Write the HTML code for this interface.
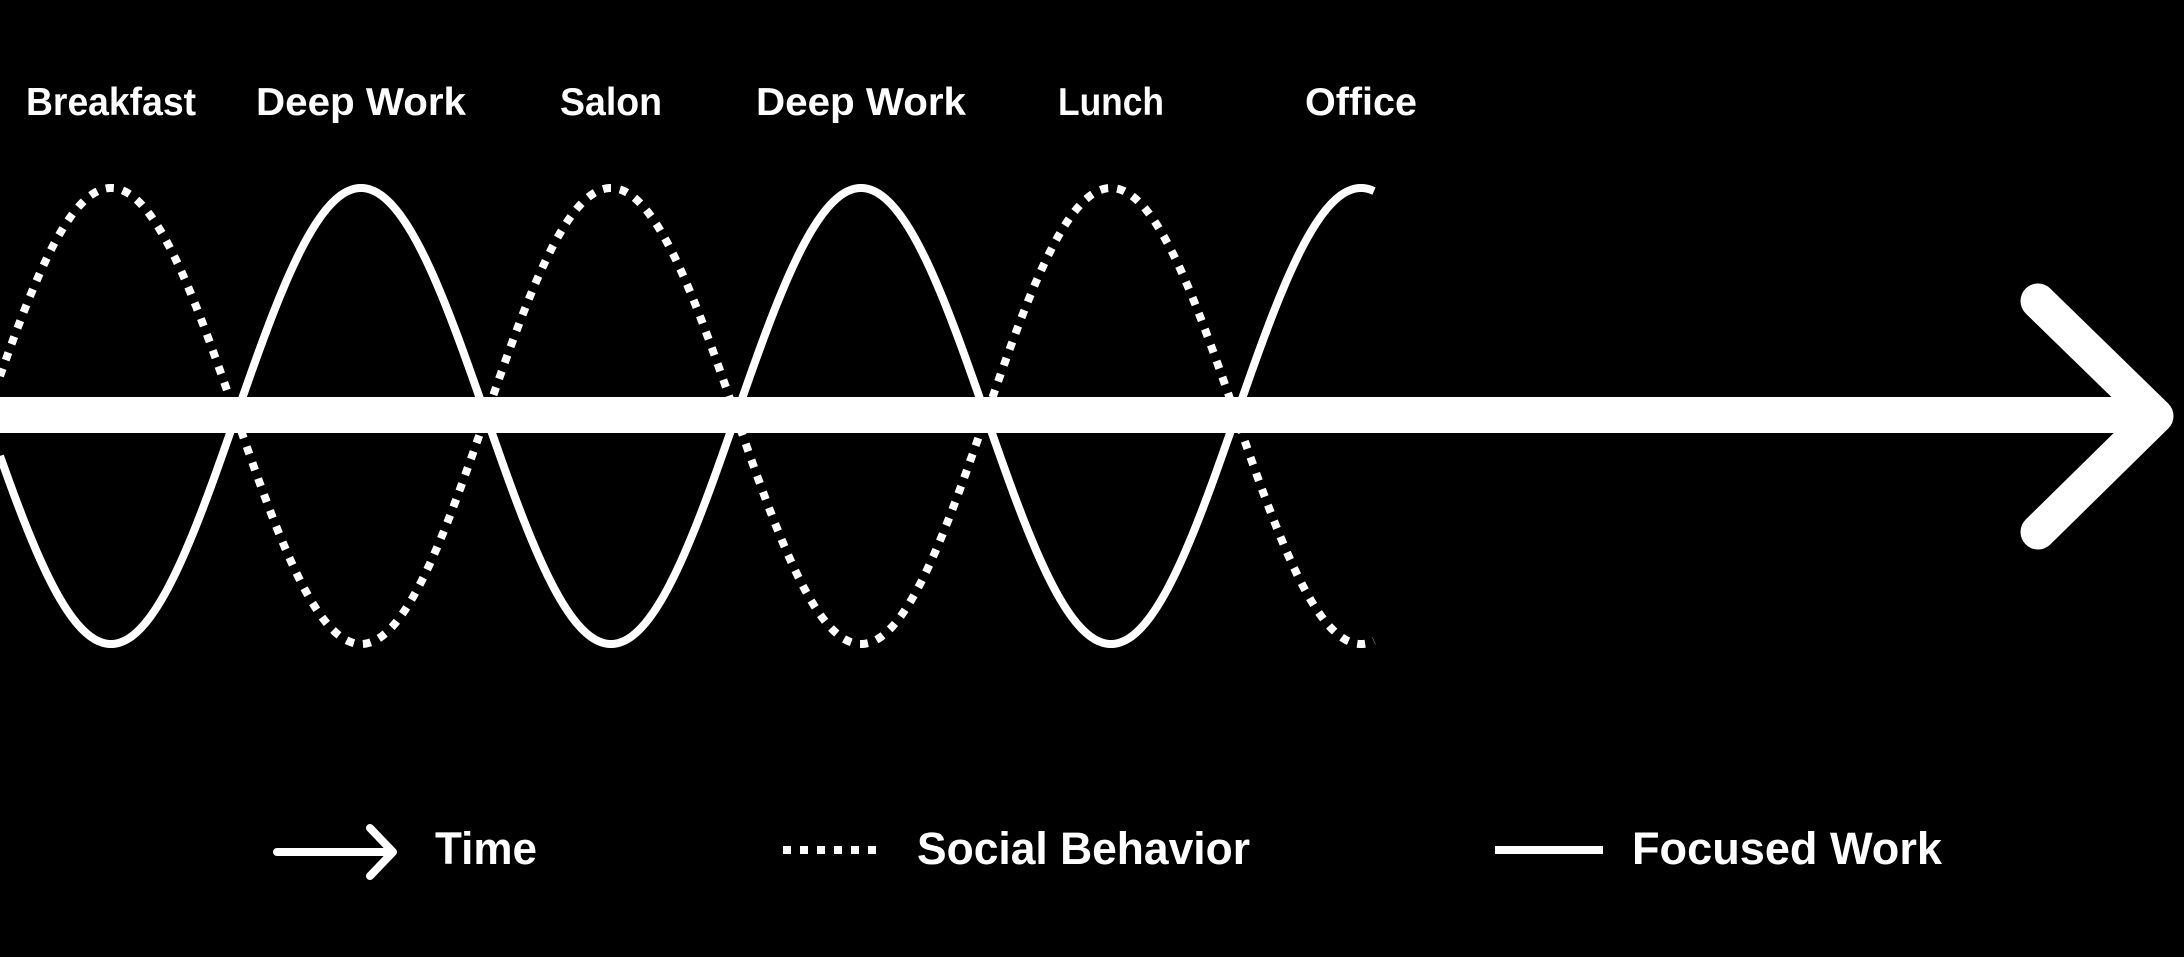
<!DOCTYPE html>
<html><head><meta charset="utf-8"><style>
html,body{margin:0;padding:0;background:#000;width:2184px;height:957px;overflow:hidden}
svg{display:block}
text{font-family:"Liberation Sans",sans-serif;font-weight:bold;fill:#fff}
</style></head><body>
<svg id="chart" width="2184" height="957" viewBox="0 0 2184 957">
<g id="labels"></g>
<path id="social" fill="none" stroke="#fff" stroke-width="8" stroke-dasharray="8 9"/>
<path id="focus" fill="none" stroke="#fff" stroke-width="8"/>
<rect x="0" y="397" width="2150" height="36" fill="#fff"/>
<polyline points="2038,301 2156,416 2038,532" fill="none" stroke="#fff" stroke-width="35" stroke-linecap="round" stroke-linejoin="round"/>
<g>
<g>
<line x1="277" y1="852" x2="390" y2="852" stroke="#fff" stroke-width="8" stroke-linecap="round"/>
<polyline points="370,828 393,852 370,876" fill="none" stroke="#fff" stroke-width="8" stroke-linecap="round" stroke-linejoin="round"/>
<text x="435" y="864" font-size="45" textLength="102" lengthAdjust="spacingAndGlyphs">Time</text>
</g>
<g>
<line x1="783" y1="850" x2="885" y2="850" stroke="#fff" stroke-width="8" stroke-dasharray="8 9"/>
<text x="917" y="864" font-size="45" textLength="333" lengthAdjust="spacingAndGlyphs">Social Behavior</text>
</g>
<g>
<line x1="1495" y1="850" x2="1603" y2="850" stroke="#fff" stroke-width="8"/>
<text x="1632" y="864" font-size="45" textLength="310" lengthAdjust="spacingAndGlyphs">Focused Work</text>
</g>
</g>
</svg>
<script>
const categories = ["Breakfast","Deep Work","Salon","Deep Work","Lunch","Office"];
const socialLevel = [1,-1,1,-1,1,-1];
const focusLevel = [-1,1,-1,1,-1,1];
const labelWidths = [170,210,102,210,106,112];

const x0 = -14, segW = 250, centerY = 416, amp = 228, xEnd = 1375;
function xCenter(i){ return x0 + segW*i + segW/2; }
function yOf(level, t){ return centerY - level*amp*Math.sin(Math.PI*t); }

function wavePath(levels){
  let d = "";
  for(let x=0; x<=xEnd; x+=2){
    const u = (x - x0)/segW;
    const i = Math.min(levels.length-1, Math.floor(u));
    const y = yOf(levels[i], u - i);
    d += (d ? " L" : "M") + x + "," + y.toFixed(2);
  }
  return d;
}
document.getElementById('social').setAttribute('d', wavePath(socialLevel));
document.getElementById('focus').setAttribute('d', wavePath(focusLevel));

const g = document.getElementById('labels');
categories.forEach((c,i)=>{
  const t = document.createElementNS('http://www.w3.org/2000/svg','text');
  
  
  t.setAttribute('x', xCenter(i));
  t.setAttribute('y', 115);
  t.setAttribute('text-anchor','middle');
  t.setAttribute('font-size', 39);
  t.setAttribute('textLength', labelWidths[i]);
  t.setAttribute('lengthAdjust','spacingAndGlyphs');
  t.textContent = c;
  g.appendChild(t);
});
</script>
</body></html>
